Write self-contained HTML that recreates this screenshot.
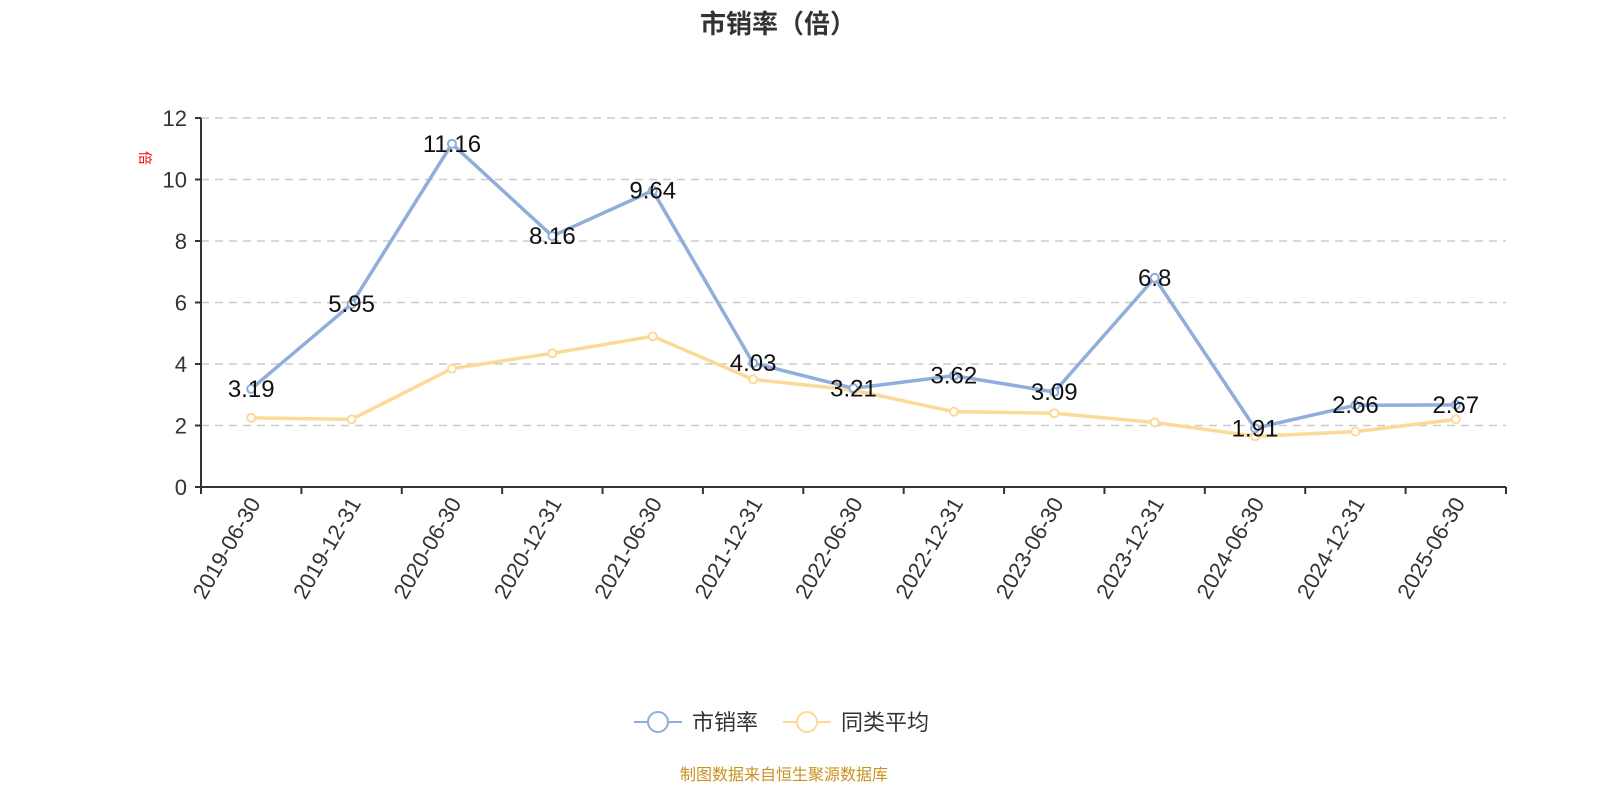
<!DOCTYPE html>
<html><head><meta charset="utf-8"><style>
body{margin:0;background:#fff;font-family:"Liberation Sans","Noto Sans CJK SC",sans-serif;}
</style></head><body>
<svg id="c" width="1600" height="800" xmlns="http://www.w3.org/2000/svg" font-family="Liberation Sans, Noto Sans CJK SC, sans-serif">
<text x="778" y="33" text-anchor="middle" font-size="26" font-weight="bold" fill="#333">市销率（倍）</text>
<text transform="translate(140,158) rotate(90)" text-anchor="middle" font-size="14" fill="red">倍</text>
<g id="grid"></g><g id="axes"></g><g id="series"></g>
<g>
<line x1="634" y1="722" x2="682" y2="722" stroke="#8faedb" stroke-width="2"/>
<circle cx="658" cy="722" r="10" fill="#fff" stroke="#8faedb" stroke-width="2"/>
<text x="692" y="730" font-size="22" fill="#333">市销率</text>
<line x1="783" y1="722" x2="831" y2="722" stroke="#fdd998" stroke-width="2"/>
<circle cx="807" cy="722" r="10" fill="#fff" stroke="#fdd998" stroke-width="2"/>
<text x="841" y="730" font-size="22" fill="#333">同类平均</text>
</g>
<text x="784" y="780" text-anchor="middle" font-size="16" fill="#c8921e">制图数据来自恒生聚源数据库</text>
</svg>
<script>
const categories=["2019-06-30","2019-12-31","2020-06-30","2020-12-31","2021-06-30","2021-12-31","2022-06-30","2022-12-31","2023-06-30","2023-12-31","2024-06-30","2024-12-31","2025-06-30"];
const psValues=[3.19,5.95,11.16,8.16,9.64,4.03,3.21,3.62,3.09,6.8,1.91,2.66,2.67];
const avgValues=[2.25,2.2,3.85,4.35,4.9,3.5,3.15,2.45,2.4,2.1,1.65,1.8,2.2];
const yTicks=[0,2,4,6,8,10,12];
const NS="http://www.w3.org/2000/svg";
const L=201,R=1506,T=118,B=487,yMax=12;
const bw=(R-L)/categories.length;
const x=i=>L+bw*(i+0.5);
const y=v=>B-(v/yMax)*(B-T);
function mk(tag,attrs,parent){const e=document.createElementNS(NS,tag);for(const k in attrs)e.setAttribute(k,attrs[k]);parent.appendChild(e);return e;}
const grid=document.getElementById('grid'),axes=document.getElementById('axes'),ser=document.getElementById('series');
yTicks.forEach(t=>{
 if(t>0){const g=mk('line',{x1:L,x2:R,y1:y(t),y2:y(t),stroke:'#ccc','stroke-dasharray':'8,6','stroke-width':1.5},grid);
 
 }
 const tk=mk('line',{x1:L-6,x2:L,y1:y(t),y2:y(t),stroke:'#333','stroke-width':2},axes);
 
 
 const tx=mk('text',{x:L-14,y:y(t)+8,'text-anchor':'end','font-size':22,fill:'#333'},axes);tx.textContent=t;
 
 
});
const ya=mk('line',{x1:L,x2:L,y1:T,y2:B,stroke:'#333','stroke-width':2},axes);


const xa=mk('line',{x1:L,x2:R,y1:B,y2:B,stroke:'#333','stroke-width':2},axes);


for(let i=0;i<=categories.length;i++){const tk=mk('line',{x1:L+bw*i,x2:L+bw*i,y1:B,y2:B+7,stroke:'#333','stroke-width':2},axes);
 
 }
categories.forEach((c,i)=>{const t=mk('text',{transform:`translate(${x(i)+10},${B+16}) rotate(-60)`,'text-anchor':'end','font-size':22,fill:'#333'},axes);t.textContent=c;
 
 });
function series(vals,color,name,labels){
 const p=mk('polyline',{points:vals.map((v,i)=>x(i)+','+y(v)).join(' '),fill:'none',stroke:color,'stroke-width':3.5,'stroke-linejoin':'round'},ser);
 
 
 vals.forEach((v,i)=>{const c=mk('circle',{cx:x(i),cy:y(v),r:4,fill:'#fff',stroke:color,'stroke-width':2},ser);
  
  
  if(labels){const t=mk('text',{x:x(i),y:y(v)+8,'text-anchor':'middle','font-size':24,fill:'#111'},ser);t.textContent=v;
  
  }});
}
series(avgValues,'#fdd998','avg',false);
series(psValues,'#8faedb','ps',true);
</script>
</body></html>
